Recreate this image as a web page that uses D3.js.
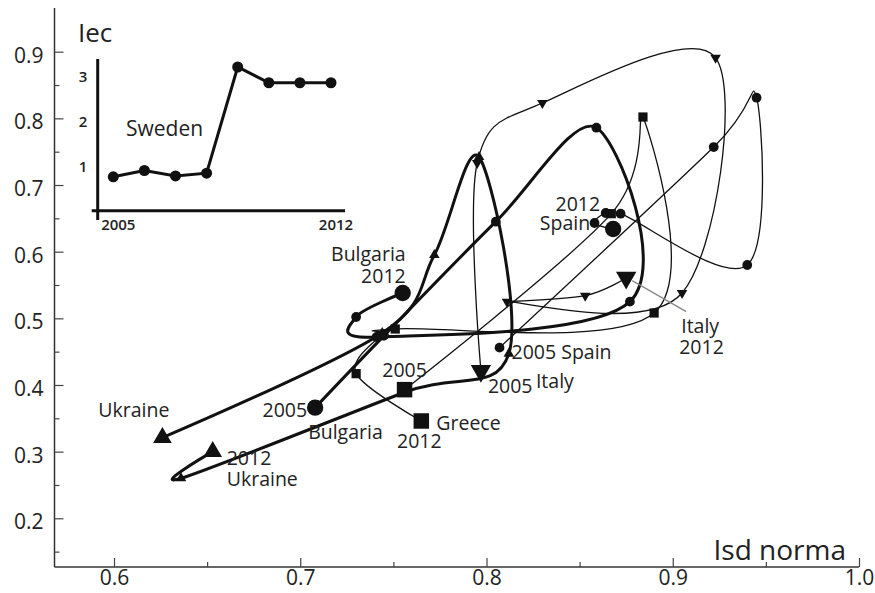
<!DOCTYPE html>
<html>
<head>
<meta charset="utf-8">
<script src="https://cdn.jsdelivr.net/npm/d3@7"></script>
<style>
  body { margin: 0; background: #fff; }
  svg text { font-family: "Open Sans", sans-serif; fill: #222; }
</style>
</head>
<body>
<svg id="chart" width="875" height="593"></svg>
<script>
// Yearly positions 2005..2012 as [Isd norma, Iec]
const years = [2005, 2006, 2007, 2008, 2009, 2010, 2011, 2012];
const bulgaria = [[0.708,0.366],[0.745,0.474],[0.805,0.645],[0.859,0.786],[0.877,0.525],[0.741,0.472],[0.730,0.502],[0.755,0.538]];
const ukraine  = [[0.626,0.321],[0.744,0.478],[0.772,0.595],[0.796,0.742],[0.812,0.447],[0.755,0.388],[0.636,0.260],[0.653,0.300]];
const greece   = [[0.756,0.393],[0.867,0.657],[0.884,0.802],[0.890,0.508],[0.751,0.484],[0.743,0.474],[0.730,0.417],[0.765,0.346]];
const spain    = [[0.807,0.456],[0.922,0.757],[0.945,0.831],[0.940,0.580],[0.872,0.657],[0.864,0.658],[0.858,0.643],[0.868,0.634]];
const italy    = [[0.797,0.421],[0.795,0.733],[0.830,0.823],[0.923,0.891],[0.905,0.538],[0.811,0.525],[0.853,0.534],[0.875,0.561]];

// Sweden inset: Iec by year
const swedenIec = [0.76, 0.90, 0.78, 0.84, 3.20, 2.85, 2.85, 2.85];

const xTicks = [0.6, 0.7, 0.8, 0.9, 1.0];
const xMinor = [0.65, 0.75, 0.85, 0.95];
const yTicks = [0.2, 0.3, 0.4, 0.5, 0.6, 0.7, 0.8, 0.9];
const yMinor = [0.15, 0.25, 0.35, 0.45, 0.55, 0.65, 0.75, 0.85];
const insetTicks = [1, 2, 3];

const svg = d3.select("#chart");
const frame = { left: 54.5, bottom: 567, top: 8 };
const x = d3.scaleLinear().domain([0.6, 1.0]).range([114, 859]);
const y = d3.scaleLinear().domain([0.2, 0.9]).range([518.3, 51.7]);

// ---- axes ----
const ax = svg.append("g");
ax.append("line").attr("x1", frame.left).attr("x2", x(1.0)).attr("y1", frame.bottom).attr("y2", frame.bottom)
  .attr("stroke", "#333").attr("stroke-width", 1.5);
ax.append("line").attr("x1", frame.left).attr("x2", frame.left).attr("y1", frame.top).attr("y2", frame.bottom)
  .attr("stroke", "#333").attr("stroke-width", 1.5);

const xAxis = ax.append("g").attr("transform", `translate(0,${frame.bottom})`)
  .call(d3.axisBottom(x).tickValues(xTicks).tickSizeInner(-9).tickSizeOuter(0).tickPadding(3).tickFormat(d3.format(".1f")));
const xAxisMinor = ax.append("g").attr("transform", `translate(0,${frame.bottom})`)
  .call(d3.axisBottom(x).tickValues(xMinor).tickSizeInner(-5).tickSizeOuter(0).tickFormat(""));
const yAxis = ax.append("g").attr("transform", `translate(${frame.left},0)`)
  .call(d3.axisLeft(y).tickValues(yTicks).tickSizeInner(-9).tickSizeOuter(0).tickPadding(11).tickFormat(d3.format(".1f")));
const yAxisMinor = ax.append("g").attr("transform", `translate(${frame.left},0)`)
  .call(d3.axisLeft(y).tickValues(yMinor).tickSizeInner(-5).tickSizeOuter(0).tickFormat(""));
[xAxis, xAxisMinor, yAxis, yAxisMinor].forEach(g => {
  g.select(".domain").remove();
  g.selectAll(".tick line").attr("stroke", "#444").attr("stroke-width", 1.2);
  g.selectAll("text").attr("font-size", 21).attr("font-family", "Open Sans").attr("fill", "#222");
});
yAxis.selectAll("text").attr("dy", "0.5em");

svg.append("text").attr("x", 78).attr("y", 42).attr("font-size", 26).text("Iec");
svg.append("text").attr("x", 846).attr("y", 560).attr("text-anchor", "end").attr("font-size", 28).text("Isd norma");

// ---- trajectories ----
const line = d3.line().x(d => x(d[0])).y(d => y(d[1])).curve(d3.curveCardinal.tension(0));
const series = [
  { name: "Italy",    pts: italy,    sym: "down",   w: 1.3, bigStart: true },
  { name: "Spain",    pts: spain,    sym: "circle", w: 1.3, bigStart: false },
  { name: "Greece",   pts: greece,   sym: "square", w: 1.3, bigStart: true },
  { name: "Ukraine",  pts: ukraine,  sym: "up",     w: 3.0, bigStart: true },
  { name: "Bulgaria", pts: bulgaria, sym: "circle", w: 3.0, bigStart: true }
];
const plot = svg.append("g");
series.forEach(s => {
  plot.append("path").datum(s.pts).attr("d", line)
    .attr("fill", "none").attr("stroke", "#111").attr("stroke-width", s.w)
    .attr("stroke-linejoin", "round");
});

const symType = { circle: d3.symbolCircle, square: d3.symbolSquare, up: d3.symbolTriangle, down: d3.symbolTriangle };
const bigSize = { circle: 210, square: 240, up: 150, down: 180 };
const smallSize = { circle: 75, square: 85, up: 48, down: 48 };
series.forEach(s => {
  s.pts.forEach((p, i) => {
    const big = (i === s.pts.length - 1) || (i === 0 && s.bigStart);
    const size = big ? bigSize[s.sym] : smallSize[s.sym];
    const rot = s.sym === "down" ? 180 : 0;
    plot.append("path")
      .attr("d", d3.symbol().type(symType[s.sym]).size(size)())
      .attr("transform", `translate(${x(p[0])},${y(p[1])}) rotate(${rot})`)
      .attr("fill", "#111");
  });
});

// ---- labels anchored to first / last year points ----
const first = a => a[0], last = a => a[a.length - 1];
const labels = [
  { t: "Ukraine",  p: first(ukraine),  dx: 7,   dy: -28, a: "end" },
  { t: "2005",     p: first(bulgaria), dx: -8,  dy: 2,   a: "end" },
  { t: "Bulgaria", p: first(bulgaria), dx: -7,  dy: 24,  a: "start" },
  { t: "Bulgaria", p: last(bulgaria),  dx: 3,   dy: -39, a: "end" },
  { t: "2012",     p: last(bulgaria),  dx: 3,   dy: -17, a: "end" },
  { t: "2005",     p: first(greece),   dx: 0,   dy: -20, a: "middle" },
  { t: "Greece",   p: last(greece),    dx: 15,  dy: 2,   a: "start" },
  { t: "2012",     p: last(greece),    dx: -2,  dy: 20,  a: "middle" },
  { t: "2005 Spain", p: first(spain),  dx: 12,  dy: 4,   a: "start" },
  { t: "2005",     p: first(italy),    dx: 7,   dy: 15,  a: "start" },
  { t: "Italy",    p: first(italy),    dx: 55,  dy: 10,  a: "start" },
  { t: "2012",     p: last(spain),     dx: -13, dy: -26, a: "end" },
  { t: "Spain",    p: last(spain),     dx: -23, dy: -7,  a: "end" },
  { t: "Italy",    p: last(italy),     dx: 55,  dy: 48,  a: "start" },
  { t: "2012",     p: last(italy),     dx: 53,  dy: 69,  a: "start" },
  { t: "2012",     p: last(ukraine),   dx: 14,  dy: 6,   a: "start" },
  { t: "Ukraine",  p: last(ukraine),   dx: 14,  dy: 27,  a: "start" }
];
const lp = last(italy);
svg.append("line")
  .attr("x1", x(lp[0]) + 6).attr("y1", y(lp[1]) + 3)
  .attr("x2", x(lp[0]) + 60).attr("y2", y(lp[1]) + 34)
  .attr("stroke", "#888").attr("stroke-width", 1.3);
labels.forEach(l => {
  svg.append("text")
    .attr("x", x(l.p[0]) + l.dx).attr("y", y(l.p[1]) + l.dy)
    .attr("text-anchor", l.a).attr("dominant-baseline", "central")
    .attr("font-size", 19.5).text(l.t);
});

// ---- Sweden inset ----
const xi = d3.scaleLinear().domain([2005, 2012]).range([113.3, 331]);
const yi = d3.scaleLinear().domain([1, 3]).range([166, 76]);
const inset = svg.append("g");
inset.append("line").attr("x1", 97.7).attr("x2", 97.7).attr("y1", 59).attr("y2", 220)
  .attr("stroke", "#111").attr("stroke-width", 3);
inset.append("line").attr("x1", 91.7).attr("x2", 345).attr("y1", 210.7).attr("y2", 210.7)
  .attr("stroke", "#111").attr("stroke-width", 3);
inset.selectAll(".yl").data(insetTicks).enter().append("text")
  .attr("x", 83).attr("y", d => yi(d)).attr("text-anchor", "middle").attr("dominant-baseline", "central")
  .attr("font-size", 15).attr("font-weight", 600).attr("fill", "#333").text(d => d);
inset.selectAll(".xl").data([years[0], years[years.length - 1]]).enter().append("text")
  .attr("x", d => xi(d) + 5).attr("y", 224)
  .attr("text-anchor", "middle").attr("dominant-baseline", "central")
  .attr("font-size", 15).attr("font-weight", 600).attr("fill", "#333").text(d => d);
const sw = years.map((yr, i) => [yr, swedenIec[i]]);
inset.append("path").datum(sw)
  .attr("d", d3.line().x(d => xi(d[0])).y(d => yi(d[1])))
  .attr("fill", "none").attr("stroke", "#111").attr("stroke-width", 3);
inset.selectAll("circle").data(sw).enter().append("circle")
  .attr("cx", d => xi(d[0])).attr("cy", d => yi(d[1])).attr("r", 5.5).attr("fill", "#111");
inset.append("text").attr("x", 126).attr("y", 128).attr("dominant-baseline", "central")
  .attr("font-size", 21).attr("fill", "#333").text("Sweden");
</script>
</body>
</html>
